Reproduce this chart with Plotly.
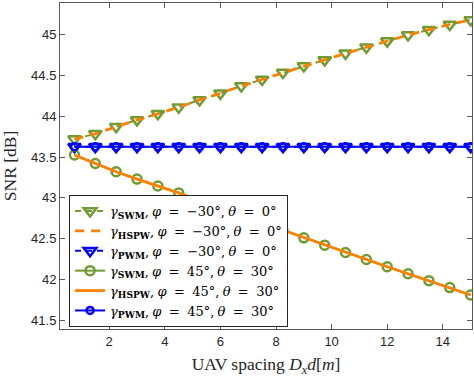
import plotly.graph_objects as go

x = [0.75, 1.5, 2.25, 3.0, 3.75, 4.5, 5.25, 6.0, 6.75, 7.5, 8.25, 9.0, 9.75, 10.5, 11.25, 12.0, 12.75, 13.5, 14.25, 15.0]
swm_m30 = [43.72, 43.785, 43.87, 43.955, 44.03, 44.11, 44.2, 44.28, 44.37, 44.45, 44.535, 44.615, 44.69, 44.77, 44.845, 44.92, 44.995, 45.06, 45.125, 45.18]
hspw_m30 = [43.72, 43.785, 43.87, 43.955, 44.03, 44.11, 44.2, 44.28, 44.37, 44.45, 44.535, 44.615, 44.69, 44.77, 44.845, 44.92, 44.995, 45.06, 45.125, 45.18]
pwm_m30 = [43.625] * 20
swm_45 = [43.525, 43.42, 43.32, 43.23, 43.145, 43.06, 42.965, 42.875, 42.785, 42.695, 42.6, 42.51, 42.42, 42.33, 42.245, 42.155, 42.07, 41.985, 41.9, 41.81]
hspw_45 = [43.525, 43.42, 43.32, 43.23, 43.145, 43.06, 42.965, 42.875, 42.785, 42.695, 42.6, 42.51, 42.42, 42.33, 42.245, 42.155, 42.07, 41.985, 41.9, 41.81]
pwm_45 = [43.625] * 20

x_ticks = [2, 4, 6, 8, 10, 12, 14]
y_ticks = [41.5, 42, 42.5, 43, 43.5, 44, 44.5, 45]
y_tick_labels = ["41.5", "42", "42.5", "43", "43.5", "44", "44.5", "45"]

GREEN = "#729A32"
ORANGE = "#FF8000"
BLUE = "#0000FF"

SP = " \u2005"  # slightly wider math-style spacing

def lbl(sub, phi, theta):
    return (f"<i>γ</i><sub><b>{sub}</b></sub>,\u2005<i>φ</i>{SP}={SP}{phi}°,\u2005"
            f"<i>θ</i>{SP}={SP}{theta}°")

fig = go.Figure()
fig.add_trace(go.Scatter(x=x, y=swm_m30, mode="lines+markers", name=lbl("SWM", "−30", "0"),
                         line=dict(color=GREEN, width=2, dash="6px,5px"),
                         marker=dict(symbol="triangle-down-open", size=11, color=GREEN, line=dict(width=2.5, color=GREEN))))
fig.add_trace(go.Scatter(x=x, y=hspw_m30, mode="lines", name=lbl("HSPW", "−30", "0"),
                         line=dict(color=ORANGE, width=2.8, dash="9px,7px")))
fig.add_trace(go.Scatter(x=x, y=pwm_m30, mode="lines+markers", name=lbl("PWM", "−30", "0"),
                         line=dict(color=BLUE, width=2, dash="6px,5px"),
                         marker=dict(symbol="triangle-down-open", size=11, color=BLUE, line=dict(width=2.5, color=BLUE))))
fig.add_trace(go.Scatter(x=x, y=swm_45, mode="lines+markers", name=lbl("SWM", "45", "30"),
                         line=dict(color=GREEN, width=2),
                         marker=dict(symbol="circle-open", size=9, color=GREEN, line=dict(width=2.5, color=GREEN))))
fig.add_trace(go.Scatter(x=x, y=hspw_45, mode="lines", name=lbl("HSPW", "45", "30"),
                         line=dict(color=ORANGE, width=2.8)))
fig.add_trace(go.Scatter(x=x, y=pwm_45, mode="lines+markers", name=lbl("PWM", "45", "30"),
                         line=dict(color=BLUE, width=2),
                         marker=dict(symbol="circle-open", size=7, color=BLUE, line=dict(width=2.5, color=BLUE))))

axis_common = dict(showgrid=False, zeroline=False, showline=True, linecolor="#5a5a5a", linewidth=1,
                   mirror="ticks", ticks="inside", ticklen=5, tickcolor="#5a5a5a",
                   tickfont=dict(family="Liberation Sans, Arial", size=13, color="#262626"))

fig.update_layout(
    width=474, height=377,
    margin=dict(l=60, r=2, t=3, b=48),
    plot_bgcolor="white", paper_bgcolor="white",
    xaxis=dict(range=[0.23, 15.05], tickvals=x_ticks,
               title=dict(text="UAV spacing <i>D<sub>x</sub>d</i>[<i>m</i>]", standoff=11,
                          font=dict(family="Liberation Serif, Times New Roman, serif", size=17.5, color="#262626")),
               **axis_common),
    yaxis=dict(range=[41.393, 45.387], tickvals=y_ticks, ticktext=y_tick_labels,
               title=dict(text="SNR [dB]", standoff=10,
                          font=dict(family="Liberation Serif, Times New Roman, serif", size=17.5, color="#262626")),
               **axis_common),
    legend=dict(x=0.022, y=0.411, xanchor="left", yanchor="top",
                bgcolor="white", bordercolor="#262626", borderwidth=1,
                font=dict(family="DejaVu Serif, serif", size=13, color="#000000"),
                tracegroupgap=0, itemwidth=30),
    showlegend=True,
)

fig.write_html("out.html")
